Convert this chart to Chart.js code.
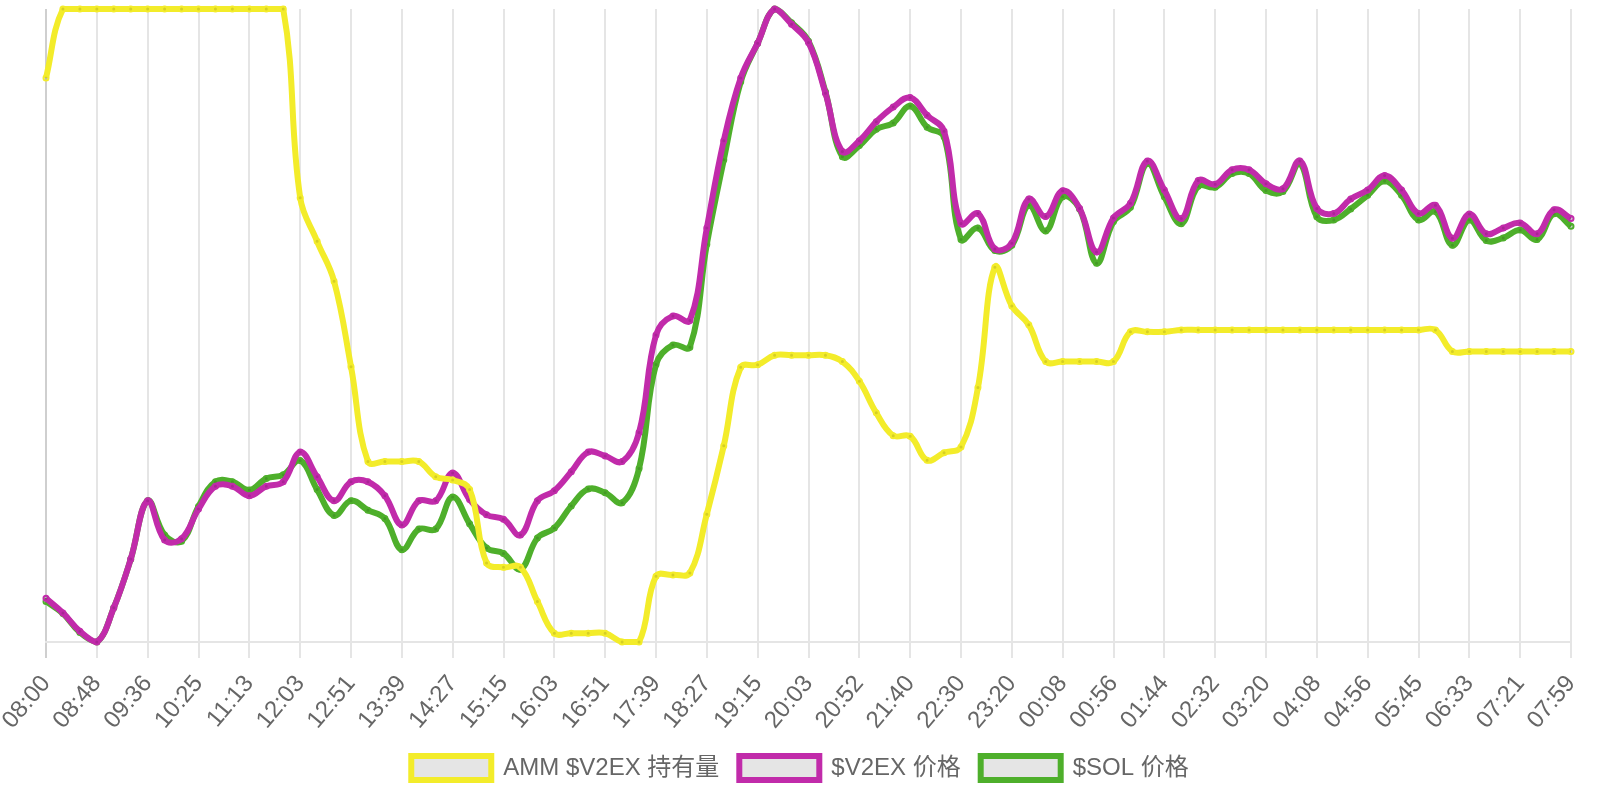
<!DOCTYPE html>
<html>
<head>
<meta charset="utf-8">
<script src="https://cdn.jsdelivr.net/npm/chart.js@4/dist/chart.umd.min.js"></script>
<style>
  html, body { margin: 0; padding: 0; background: #fff; }
  #wrap { width: 1600px; height: 800px; }
</style>
</head>
<body>
<div id="wrap"><canvas id="c" width="1600" height="800"></canvas></div>
<script>
const timeLabels = [
  '08:00','08:16','08:32', '08:48','09:04','09:20', '09:36','09:52','10:09',
  '10:25','10:41','10:57', '11:13','11:30','11:46', '12:03','12:19','12:35',
  '12:51','13:07','13:23', '13:39','13:55','14:11', '14:27','14:43','14:59',
  '15:15','15:31','15:47', '16:03','16:19','16:35', '16:51','17:07','17:23',
  '17:39','17:55','18:11', '18:27','18:43','18:59', '19:15','19:31','19:47',
  '20:03','20:19','20:36', '20:52','21:08','21:24', '21:40','21:57','22:13',
  '22:30','22:46','23:03', '23:20','23:36','23:52', '00:08','00:24','00:40',
  '00:56','01:12','01:28', '01:44','02:00','02:16', '02:32','02:48','03:04',
  '03:20','03:36','03:52', '04:08','04:24','04:40', '04:56','05:12','05:29',
  '05:45','06:01','06:17', '06:33','06:49','07:05', '07:21','07:33','07:46',
  '07:59'
];

const ammHoldings = [
  1556400,1600000,1600000,1600000,1600000,1600000,1600000,1600000,1600000,1600000,
  1600000,1600000,1600000,1600000,1600000,1480800,1453200,1428000,1374000,1314000,
  1314000,1314000,1314000,1304400,1302400,1296400,1250000,1247200,1247200,1225600,
  1205600,1205600,1205600,1205600,1200000,1200000,1241600,1242400,1243600,1280800,
  1324000,1373600,1375200,1381200,1381200,1381200,1381200,1377200,1364800,1344800,
  1330400,1330000,1314800,1319600,1323200,1360800,1436800,1412400,1400400,1377200,
  1377200,1377200,1377200,1377200,1396000,1396000,1396000,1397200,1397200,1397200,
  1397200,1397200,1397200,1397200,1397200,1397200,1397200,1397200,1397200,1397200,
  1397200,1397200,1397200,1383600,1383600,1383600,1383600,1383600,1383600,1383600,
  1383600
];

const v2exPrice = [
  0.004207,0.004138,0.004051,0.004000,0.004162,0.004393,0.004669,0.004483,0.004489,0.004630,
  0.004738,0.004738,0.004693,0.004738,0.004759,0.004900,0.004783,0.004669,0.004759,0.004759,
  0.004693,0.004555,0.004669,0.004669,0.004801,0.004675,0.004603,0.004582,0.004507,0.004669,
  0.004717,0.004807,0.004900,0.004882,0.004855,0.004993,0.005455,0.005545,0.005524,0.005962,
  0.006376,0.006673,0.006838,0.007000,0.006928,0.006841,0.006601,0.006325,0.006376,0.006466,
  0.006535,0.006580,0.006496,0.006421,0.005983,0.006031,0.005863,0.005890,0.006100,0.006016,
  0.006139,0.006055,0.005848,0.006010,0.006079,0.006280,0.006142,0.006007,0.006187,0.006169,
  0.006238,0.006238,0.006172,0.006148,0.006280,0.006055,0.006031,0.006100,0.006142,0.006211,
  0.006142,0.006031,0.006070,0.005914,0.006028,0.005935,0.005962,0.005986,0.005935,0.006049,
  0.006007
];

const solPrice = [
  140.77,140.54,140.18,140.00,140.65,141.57,142.68,142.03,141.91,142.57,
  143.04,143.04,142.88,143.10,143.17,143.44,142.89,142.40,142.68,142.50,
  142.34,141.75,142.14,142.14,142.75,142.24,141.78,141.68,141.38,141.97,
  142.16,142.58,142.90,142.83,142.64,143.29,145.26,145.63,145.59,147.54,
  149.14,150.62,151.35,152.00,151.74,151.39,150.43,149.20,149.41,149.72,
  149.84,150.16,149.76,149.58,147.63,147.85,147.42,147.52,148.28,147.79,
  148.44,148.21,147.18,147.97,148.24,149.07,148.44,147.93,148.64,148.62,
  148.88,148.88,148.56,148.54,149.07,148.06,148.00,148.21,148.47,148.74,
  148.47,148.00,148.16,147.52,148.00,147.61,147.66,147.81,147.63,148.12,
  147.88
];

const seriesNames = ['AMM $V2EX 持有量', '$V2EX 价格', '$SOL 价格'];
const seriesColors = ['#f3ec2a', '#c12baa', '#4eaf2b'];

const FONT = "'Liberation Sans', Arial, Helvetica, 'Noto Sans CJK SC', sans-serif";

function ds(label, data, color, axis) {
  return {
    label, data, yAxisID: axis,
    borderColor: color,
    backgroundColor: 'rgba(0,0,0,0.1)',
    borderWidth: 6,
    tension: 0.4,
    fill: false,
    pointRadius: 2.5,
    pointBorderWidth: 2,
    pointBorderColor: color,
    pointBackgroundColor: 'rgba(0,0,0,0.12)'
  };
}

new Chart(document.getElementById('c'), {
  type: 'line',
  data: {
    labels: timeLabels,
    datasets: [
      ds(seriesNames[0], ammHoldings, seriesColors[0], 'y'),
      ds(seriesNames[1], v2exPrice, seriesColors[1], 'y1'),
      ds(seriesNames[2], solPrice, seriesColors[2], 'y2')
    ]
  },
  options: {
    responsive: false,
    devicePixelRatio: 1,
    animation: false,
    layout: { padding: { top: 9, left: 0, right: 0, bottom: 10 } },
    plugins: {
      tooltip: { enabled: false },
      legend: {
        position: 'bottom',
        labels: {
          color: '#666',
          font: { family: FONT, size: 24 },
          boxWidth: 80,
          boxHeight: 24,
          padding: 20
        }
      }
    },
    scales: {
      x: {
        type: 'category',
        afterFit: (scale) => {
          scale.paddingLeft = 46;
          scale.paddingRight = 29;
          scale.height = 94;
        },
        grid: {
          color: (c) => c.index === 0 ? 'rgba(0,0,0,0.19)' : 'rgba(0,0,0,0.1)',
          lineWidth: 2,
          tickLength: 16,
          drawOnChartArea: true
        },
        border: { color: 'rgba(0,0,0,0.1)', width: 2 },
        ticks: {
          color: '#666',
          font: { family: FONT, size: 24 },
          autoSkip: true,
          maxTicksLimit: 31,
          minRotation: 50,
          maxRotation: 50,
          padding: 12
        }
      },
      y:  { display: false, bounds: 'data', grace: 0 },
      y1: { display: false, bounds: 'data', grace: 0 },
      y2: { display: false, bounds: 'data', grace: 0 }
    }
  }
});
</script>
</body>
</html>
